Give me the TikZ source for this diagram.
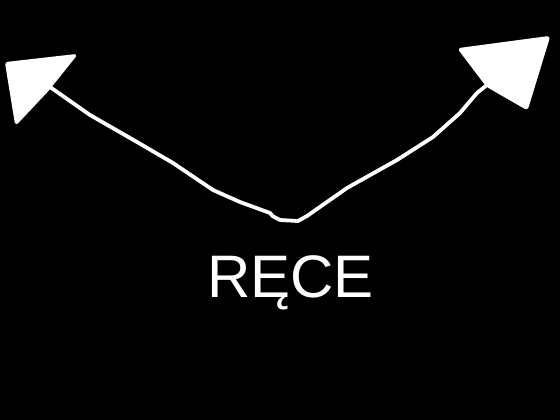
\documentclass[tikz,border=0pt]{standalone}
\usepackage{fontspec}
\setmainfont{Liberation Sans}
\usetikzlibrary{positioning}
\tikzstyle{shaft} = [draw=white, line width=3.8pt, line cap=round, line join=round]
\tikzstyle{head} = [fill=white, draw=white, line width=2pt, line join=round, rounded corners=2pt]
\tikzstyle{label} = [text=white, font=\fontsize{60}{62}\selectfont, inner sep=0pt, anchor=base]

\begin{document}
\begin{tikzpicture}[x=1pt, y=-1pt]

% background
\fill[black] (0,0) rectangle (560,420);
\useasboundingbox (0,0) rectangle (560,420);

% meeting point and arrow ends
\coordinate (bottom) at (280,220);
\coordinate (lefttip) at (50,87);
\coordinate (righttip) at (487,85);

% hand drawn shafts
\draw[shaft] (bottom) .. controls (272,216) .. (270,213) -- (240,202) -- (213,190) -- (173,163) -- (137,142) -- (90,115) -- (lefttip);
\draw[shaft] (bottom) -- (298,221) -- (307,216) -- (347,188) -- (397,160) -- (433,137) -- (460,113) -- (477,93) -- (righttip);

% arrowheads
\draw[head] (6,63) -- (76,55) -- (48,90) -- (16,124) -- cycle;
\draw[head] (459,49) -- (549,37) -- (527,109) -- (487,86) -- cycle;

% label
\node[label] (hands) at (290.5,297) {RĘCE};

\end{tikzpicture}
\end{document}
